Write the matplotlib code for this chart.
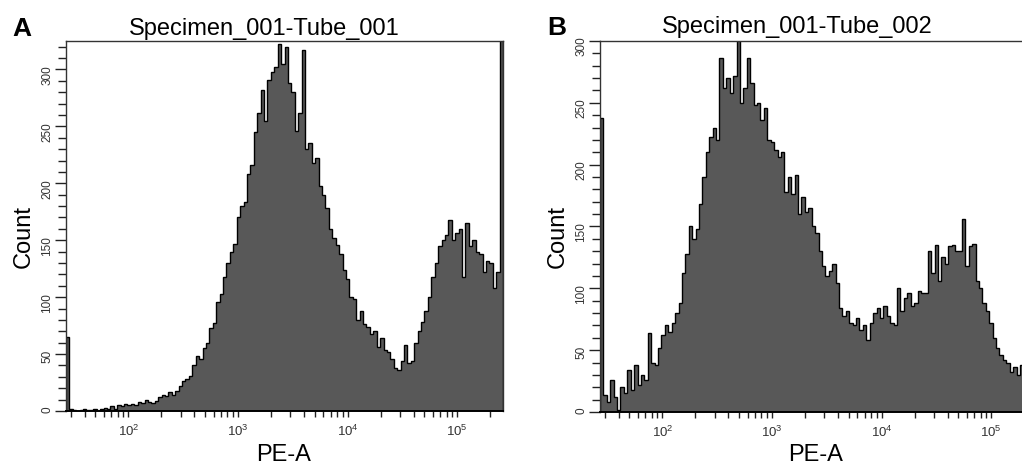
import numpy as np
import matplotlib
matplotlib.use('Agg')
import matplotlib.pyplot as plt
from matplotlib.ticker import MultipleLocator, LogLocator, FixedLocator, NullFormatter

plt.rcParams['font.family'] = ['Liberation Sans', 'DejaVu Sans']
plt.rcParams['mathtext.fontset'] = 'custom'
plt.rcParams['mathtext.rm'] = 'Liberation Sans'

# counts per channel (left to right)
count_a = [65, 2, 1, 0, 1, 2, 1, 1, 2, 0, 2, 3, 2, 4, 2, 5,
           4, 6, 5, 6, 5, 8, 7, 10, 8, 7, 9, 12, 14, 13, 17, 14,
           18, 22, 26, 28, 31, 40, 48, 46, 55, 60, 73, 77, 96, 103, 118, 130,
           140, 147, 170, 180, 184, 208, 216, 245, 262, 282, 255, 291, 298, 302, 322, 305,
           320, 288, 280, 246, 262, 317, 230, 235, 218, 222, 198, 190, 178, 160, 152, 146,
           138, 124, 116, 100, 98, 80, 88, 76, 74, 68, 70, 56, 64, 54, 52, 46,
           38, 36, 44, 58, 42, 44, 60, 70, 78, 88, 100, 118, 130, 145, 150, 155,
           168, 150, 156, 160, 118, 165, 145, 150, 140, 138, 122, 132, 130, 108, 122, 400]

count_b = [238, 14, 8, 26, 12, 2, 20, 15, 34, 18, 38, 22, 30, 26, 64, 40,
           38, 52, 62, 70, 65, 72, 80, 88, 112, 128, 150, 140, 148, 168, 190, 210,
           222, 230, 220, 286, 262, 270, 258, 272, 302, 250, 262, 286, 266, 248, 250, 236,
           246, 220, 218, 212, 206, 210, 178, 190, 176, 192, 160, 174, 162, 165, 150, 145,
           130, 118, 110, 114, 120, 104, 84, 78, 82, 72, 70, 76, 66, 70, 58, 72,
           80, 84, 76, 86, 78, 72, 70, 100, 82, 92, 96, 86, 88, 98, 96, 96,
           130, 112, 135, 106, 125, 120, 134, 135, 130, 130, 156, 118, 134, 136, 106, 100,
           88, 82, 72, 60, 52, 46, 42, 40, 32, 36, 30, 38, 34, 30, 28, 300]

titles = ['Specimen_001-Tube_001', 'Specimen_001-Tube_002']
letters = ['A', 'B']
ymax = [325, 300]
decades = [1e2, 1e3, 1e4, 1e5]
decade_labels = [r'$\mathregular{10^{2}}$', r'$\mathregular{10^{3}}$',
                 r'$\mathregular{10^{4}}$', r'$\mathregular{10^{5}}$']
x_lo, x_hi = 10 ** 1.43, 262144

W, H = 1022, 465
fig = plt.figure(figsize=(W / 100, H / 100), dpi=100)


def rect(left, top, w, h):
    return [left / W, 1 - (top + h) / H, w / W, h / H]


ax_a = fig.add_axes(rect(66, 41, 437, 370))
ax_b = fig.add_axes(rect(600, 41, 437, 371))

fill_col = '#585858'
for ax, counts, top in [(ax_a, count_a, ymax[0]), (ax_b, count_b, ymax[1])]:
    edges = np.logspace(np.log10(x_lo), np.log10(x_hi), len(counts) + 1)
    ax.stairs(counts, edges, fill=True, color=fill_col, lw=0)
    ax.stairs(counts, edges, color='black', lw=1.0)
    ax.set_xscale('log')
    ax.set_xlim(x_lo, x_hi)
    ax.set_ylim(0, top)
    ax.xaxis.set_major_locator(FixedLocator(decades))
    ax.set_xticklabels(decade_labels)
    ax.xaxis.set_minor_locator(LogLocator(base=10, subs=np.arange(2, 10)))
    ax.xaxis.set_minor_formatter(NullFormatter())
    ax.tick_params(axis='x', which='both', direction='out', length=4.5, width=1,
                   color='#222222', labelsize=9.5, labelcolor='#333333', pad=5)
    ax.yaxis.set_major_locator(MultipleLocator(50))
    ax.yaxis.set_minor_locator(MultipleLocator(10))
    ax.tick_params(axis='y', which='major', direction='out', length=8, width=1,
                   color='#222222', labelsize=8.5, labelcolor='#333333', pad=1,
                   labelrotation=90)
    ax.tick_params(axis='y', which='minor', direction='out', length=6, width=1,
                   color='#222222')
    for s in ax.spines.values():
        s.set_color('#333333')
        s.set_linewidth(1.0)
    ax.spines['bottom'].set_linewidth(1.4)
    ax.spines['bottom'].set_color('black')

# titles, axis labels and panel letters
fig.text(264 / W, 1 - 35 / H, titles[0], fontsize=17, ha='center', va='baseline')
fig.text(797 / W, 1 - 33 / H, titles[1], fontsize=17, ha='center', va='baseline')
fig.text(284 / W, 1 - 461 / H, 'PE-A', fontsize=17, ha='center', va='baseline')
fig.text(816 / W, 1 - 461 / H, 'PE-A', fontsize=17, ha='center', va='baseline')
fig.text(24 / W, 1 - 237 / H, 'Count', fontsize=17, rotation=90, ha='center', va='center')
fig.text(558 / W, 1 - 237 / H, 'Count', fontsize=17, rotation=90, ha='center', va='center')
fig.text(22 / W, 1 - 36 / H, letters[0], fontsize=19, fontweight='bold', ha='center', va='baseline')
fig.text(557 / W, 1 - 35 / H, letters[1], fontsize=19, fontweight='bold', ha='center', va='baseline')

fig.savefig('out.png', dpi=100)
